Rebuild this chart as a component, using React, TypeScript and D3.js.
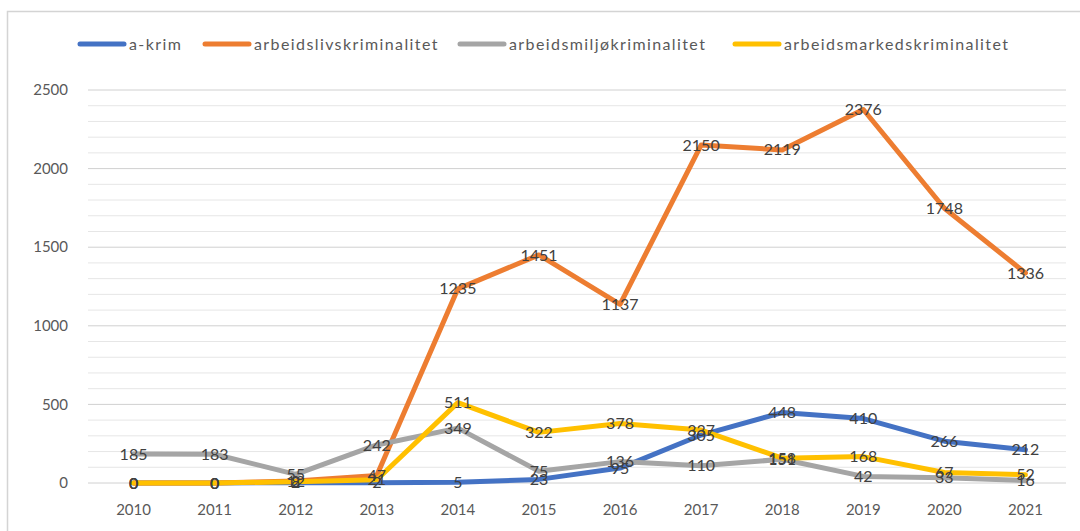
import React from "react";
import * as d3 from "d3";

const years = ["2010","2011","2012","2013","2014","2015","2016","2017","2018","2019","2020","2021"];
const aKrim = [0, 0, 2, 2, 5, 23, 95, 305, 448, 410, 266, 212];
const arbeidsliv = [0, 0, 12, 47, 1235, 1451, 1137, 2150, 2119, 2376, 1748, 1336];
const arbeidsmiljo = [185, 183, 55, 242, 349, 75, 136, 110, 151, 42, 33, 16];
const arbeidsmarked = [0, 0, 8, 21, 511, 322, 378, 337, 158, 168, 67, 52];
const seriesNames = ["a-krim", "arbeidslivskriminalitet", "arbeidsmiljøkriminalitet", "arbeidsmarkedskriminalitet"];
const seriesColors = ["#4472C4", "#ED7D31", "#A5A5A5", "#FFC000"];
const yTicks = [0, 500, 1000, 1500, 2000, 2500];

const W = 1080, H = 531;
const left = 93, right = 1066, top = 90, bottom = 483;

export default function App() {
  const x = d3.scaleBand().domain(years).range([left, right]);
  const y = d3.scaleLinear().domain([0, 2500]).range([bottom, top]);
  const minor = d3.range(0, 2501, 100);
  const allSeries = [aKrim, arbeidsliv, arbeidsmiljo, arbeidsmarked];
  const line = d3.line<number>()
    .x((_, i) => (x(years[i]) as number) + x.bandwidth() / 2)
    .y((d) => y(d));
  const legendX = [80, 205, 460, 735];
  const font = "Lato, 'Open Sans', sans-serif";
  return (
    <svg width={W} height={H} style={{ position: "fixed", left: 0, top: 0, background: "#fff" }}>
      <rect x={7.5} y={11.5} width={1080} height={530} fill="#fff" stroke="#d4d4d4" strokeWidth={1.5} />
      {minor.map((v) => (
        <line key={v} x1={left - 5} x2={right} y1={y(v)} y2={y(v)} stroke={v % 500 === 0 ? "#d0d0d0" : "#e6e6e6"} strokeWidth={1} />
      ))}
      {yTicks.map((v) => (
        <text key={v} x={68} y={y(v)} dy="0.35em" textAnchor="end" fontSize={15} fill="#595959" fontFamily={font}>{v}</text>
      ))}
      {years.map((yr) => (
        <text key={yr} x={(x(yr) as number) + x.bandwidth() / 2} y={510} dy="0.35em" textAnchor="middle" fontSize={15} fill="#595959" fontFamily={font}>{yr}</text>
      ))}
      {allSeries.map((s, k) => (
        <path key={k} d={line(s) || ""} fill="none" stroke={seriesColors[k]} strokeWidth={5} strokeLinejoin="round" strokeLinecap="round" />
      ))}
      {allSeries.map((s, k) =>
        s.map((v, i) => (
          <text key={k + "-" + i} x={(x(years[i]) as number) + x.bandwidth() / 2} y={y(v)} dy="0.35em" textAnchor="middle" fontSize={16} fill="#404040" fontFamily={font}>{v}</text>
        ))
      )}
      {seriesNames.map((n, k) => (
        <g key={n}>
          <line x1={legendX[k]} x2={legendX[k] + 44} y1={44} y2={44} stroke={seriesColors[k]} strokeWidth={5} strokeLinecap="round" />
          <text x={legendX[k] + 49} y={44} dy="0.35em" fontSize={16} letterSpacing={1.4} fill="#595959" fontFamily={font}>{n}</text>
        </g>
      ))}
    </svg>
  );
}
